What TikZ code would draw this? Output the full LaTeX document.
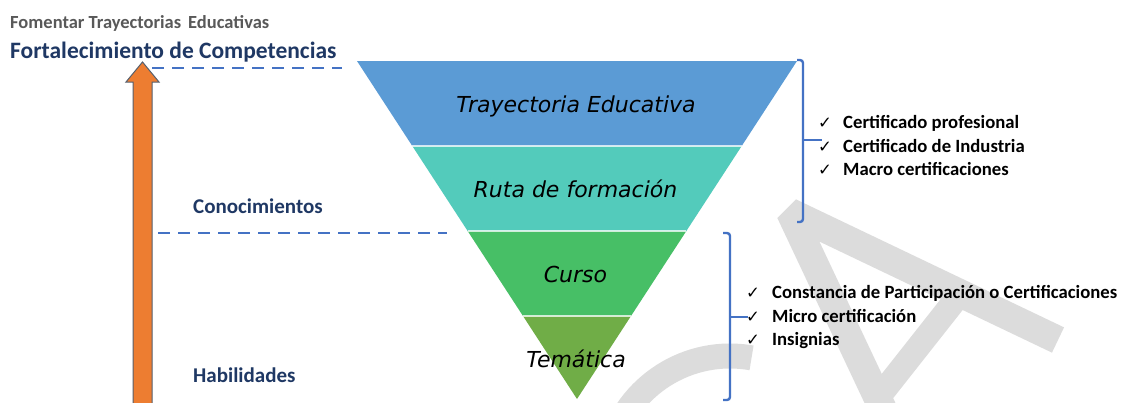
\documentclass[tikz,border=0pt]{standalone}
\usepackage{fontspec}
\setmainfont{Carlito}
\newfontfamily\verdfont{DejaVu Sans}
\newfontfamily\symfont{DejaVu Sans}
\usetikzlibrary{calc}
\definecolor{bandblue}{HTML}{5B9BD5}
\definecolor{bandteal}{HTML}{53CBBB}
\definecolor{bandgreen}{HTML}{47BF66}
\definecolor{bandolive}{HTML}{70AD47}
\definecolor{navy}{HTML}{1F3864}
\definecolor{dgray}{HTML}{595959}
\definecolor{lineblue}{HTML}{4472C4}
\definecolor{arroworange}{HTML}{ED7D31}
\definecolor{wmgray}{HTML}{DCDCDC}
\definecolor{outl}{HTML}{56606E}
\begin{document}
\begin{tikzpicture}[x=1pt,y=-1pt,
  bandtext/.style={font=\verdfont\itshape\fontsize{22}{26}\selectfont, text=black, anchor=base, inner sep=0pt},
  lefttitle/.style={font=\bfseries\fontsize{21}{25}\selectfont, text=navy, anchor=base west, inner sep=0pt},
  listitem/.style={font=\bfseries\fontsize{18.7}{22}\selectfont, text=black, anchor=base west, inner sep=0pt},
  checkmark/.style={font=\symfont\fontsize{16.5}{18}\selectfont, text=black, anchor=base west, inner sep=0pt},
  dashline/.style={draw=lineblue, line width=2.6pt, dash pattern=on 12pt off 8pt},
  bracketline/.style={draw=lineblue, line width=2.4pt, rounded corners=3pt},
  wm/.style={draw=wmgray, line width=28pt, line join=bevel},
  sepline/.style={draw=white, opacity=0.75, line width=1.5pt}
]
\useasboundingbox (0,0) rectangle (1122,402);
\fill[white] (0,0) rectangle (1122,402);
\clip (0,0) rectangle (1122,402);

% watermark
\draw[wm] (888,420) -- (790,212) -- (1058,340);
\draw[wm, line width=24pt] (878,398) -- (960,294);
\draw[wm, line width=25pt] (730,480) ++(-80:124) arc[start angle=-80, end angle=-165, radius=124];

% funnel bands
\fill[bandblue]  (357,61) -- (797,61) -- (741.7,146) -- (412.3,146) -- cycle;
\fill[bandteal]  (412.3,146) -- (741.7,146) -- (686.35,231) -- (467.65,231) -- cycle;
\fill[bandgreen] (467.65,231) -- (686.35,231) -- (631,316) -- (523,316) -- cycle;
\fill[bandolive] (523,316) -- (631,316) -- (577,399) -- cycle;
\draw[sepline] (412.3,146) -- (741.7,146);
\draw[sepline] (467.65,231) -- (686.35,231);
\draw[sepline] (523,316) -- (631,316);

\node[bandtext] (t1) at (576,112) {Trayectoria Educativa};
\node[bandtext] (t2) at (575.5,197) {Ruta de formación};
\node[bandtext] (t3) at (575.5,282) {Curso};
\node[bandtext] (t4) at (576,367) {Temática};

% orange arrow
\draw[fill=arroworange, draw=outl, line width=1pt, line join=miter]
  (133,420) -- (133,82) -- (126,82) -- (142.5,62) -- (159,82) -- (152,82) -- (152,420) -- cycle;

% dashed guide lines
\coordinate (d1a) at (152,68); \coordinate (d1b) at (342,68);
\coordinate (d2a) at (158,233); \coordinate (d2b) at (447,233);
\draw[dashline] (d1a) -- (d1b);
\draw[dashline] (d2a) -- (d2b);

% left texts
\node[font=\bfseries\fontsize{18.5}{22}\selectfont, text=dgray, anchor=base west, inner sep=0pt] (fomentar) at (10,28) {Fomentar Trayectorias\hspace{0.15em} Educativas};
\node[lefttitle, font=\bfseries\fontsize{23.5}{28}\selectfont] (fortal) at (10,58.3) {Fortalecimiento de Competencias};
\node[lefttitle] (conoc) at (193,213) {Conocimientos};
\node[lefttitle] (habil) at (193,382) {Habilidades};

% bracket 1
\coordinate (b1t) at (797,60); \coordinate (b1b) at (797,222);
\coordinate (b1m) at (803,140); \coordinate (b1e) at (822,140);
\draw[bracketline] (b1t) -- (803,60) -- (803,222) -- (b1b);
\draw[bracketline] (b1m) -- (b1e);
% bracket 2
\coordinate (b2t) at (723,233); \coordinate (b2b) at (723,400);
\coordinate (b2m) at (730,317); \coordinate (b2e) at (748,317);
\draw[bracketline] (b2t) -- (730,233) -- (730,400) -- (b2b);
\draw[bracketline] (b2m) -- (b2e);

% list 1
\node[checkmark] (c11) at (818,128) {✓};
\node[listitem] (l11) at (843,128) {Certificado profesional};
\node[checkmark] (c12) at (818,152) {✓};
\node[listitem] (l12) at (843,152) {Certificado de Industria};
\node[checkmark] (c13) at (818,175) {✓};
\node[listitem] (l13) at (843,175) {Macro certificaciones};
% list 2
\node[checkmark] (c21) at (746,298) {✓};
\node[listitem] (l21) at (772,298) {Constancia de Participación o Certificaciones};
\node[checkmark] (c22) at (746,322) {✓};
\node[listitem] (l22) at (772,322) {Micro certificación};
\node[checkmark] (c23) at (746,345) {✓};
\node[listitem] (l23) at (772,345) {Insignias};
\end{tikzpicture}
\end{document}
